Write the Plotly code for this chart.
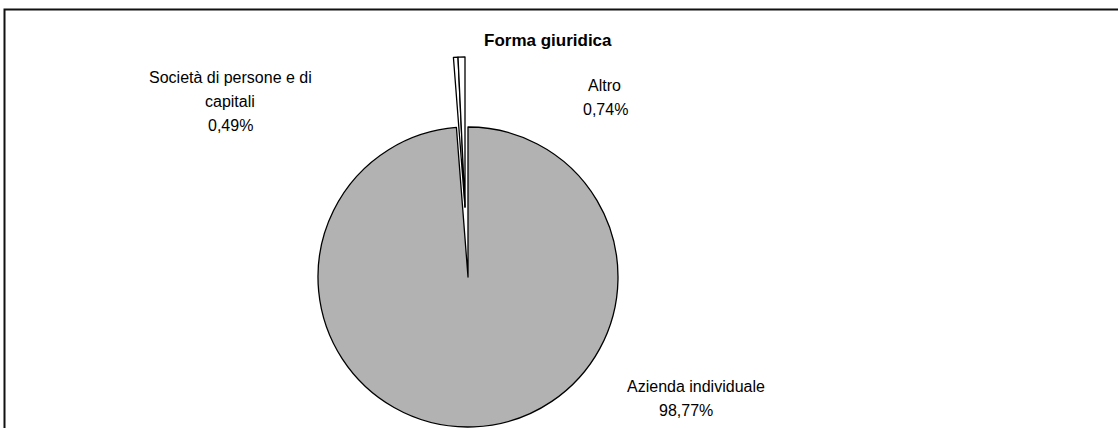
import plotly.graph_objects as go

# ---- data ----
categories = ["Azienda individuale", "Società di persone e di capitali", "Altro"]
values = [98.77, 0.49, 0.74]
chart_title = "Forma giuridica"
# how each category label is broken into lines
label_lines = [["Azienda individuale"], ["Società di persone e di", "capitali"], ["Altro"]]

W, H = 1118, 428
FONT = "Liberation Sans, Arial, sans-serif"
GRAY = "#B2B2B2"
NONE = "rgba(0,0,0,0)"


def px(x):
    return x / W


def py(y):
    return 1 - y / H


def fmt(v):
    return f"{v:.2f}".replace(".", ",") + "%"


# pie geometry (pixels)
cx, cy, r = 468, 277, 150
pull_dx, pull_dy = -3, -70

fig = go.Figure()

# main pie: large slice (small ones left empty -> gap)
fig.add_trace(go.Pie(
    labels=categories, values=values, sort=False, direction="clockwise",
    rotation=0, textinfo="none", hoverinfo="skip", showlegend=False,
    marker=dict(colors=[GRAY, NONE, NONE],
                line=dict(color=["#000", NONE, NONE], width=[1.3, 0, 0])),
    domain=dict(x=[px(cx - r), px(cx + r)], y=[py(cy + r), py(cy - r)]),
))

# exploded small slices
cx2, cy2 = cx + pull_dx, cy + pull_dy
fig.add_trace(go.Pie(
    labels=categories, values=values, sort=False, direction="clockwise",
    rotation=0, textinfo="none", hoverinfo="skip", showlegend=False,
    marker=dict(colors=[NONE, "#FFFFFF", "#FFFFFF"],
                line=dict(color=[NONE, "#000", "#000"], width=[0, 1.3, 1.3])),
    domain=dict(x=[px(cx2 - r), px(cx2 + r)], y=[py(cy2 + r), py(cy2 - r)]),
))

# label anchor (centre x of each line, y of first line), line step
label_pos = [((696, 686), 386), ((230, 230, 230), 77), ((604, 605), 85)]
LINE_STEP = 24.5
annotations = []
for lines, v, (xs, y0) in zip(label_lines, values, label_pos):
    all_lines = lines + [fmt(v)]
    for k, (t, lx) in enumerate(zip(all_lines, xs)):
        annotations.append(dict(
            text=t, x=px(lx), y=py(y0 + k * LINE_STEP), xref="paper", yref="paper",
            showarrow=False, xanchor="center", yanchor="middle",
            font=dict(family=FONT, size=16, color="#000"),
        ))
annotations.append(dict(
    text=f"<b>{chart_title}</b>", x=px(548), y=py(40), xref="paper", yref="paper",
    showarrow=False, xanchor="center", yanchor="middle",
    font=dict(family=FONT, size=17, color="#000"),
))

fig.update_layout(
    width=W, height=H, margin=dict(l=0, r=0, t=0, b=0),
    paper_bgcolor="#FFFFFF", plot_bgcolor="#FFFFFF",
    annotations=annotations,
    shapes=[dict(type="rect", xref="paper", yref="paper",
                 x0=px(4.5), y0=py(9.5), x1=1.05, y1=-0.05,
                 line=dict(color="#111", width=2), fillcolor=NONE, layer="above")],
)

fig.write_html("out.html", config={"displayModeBar": False},
               post_script="document.body.style.margin='0';")
